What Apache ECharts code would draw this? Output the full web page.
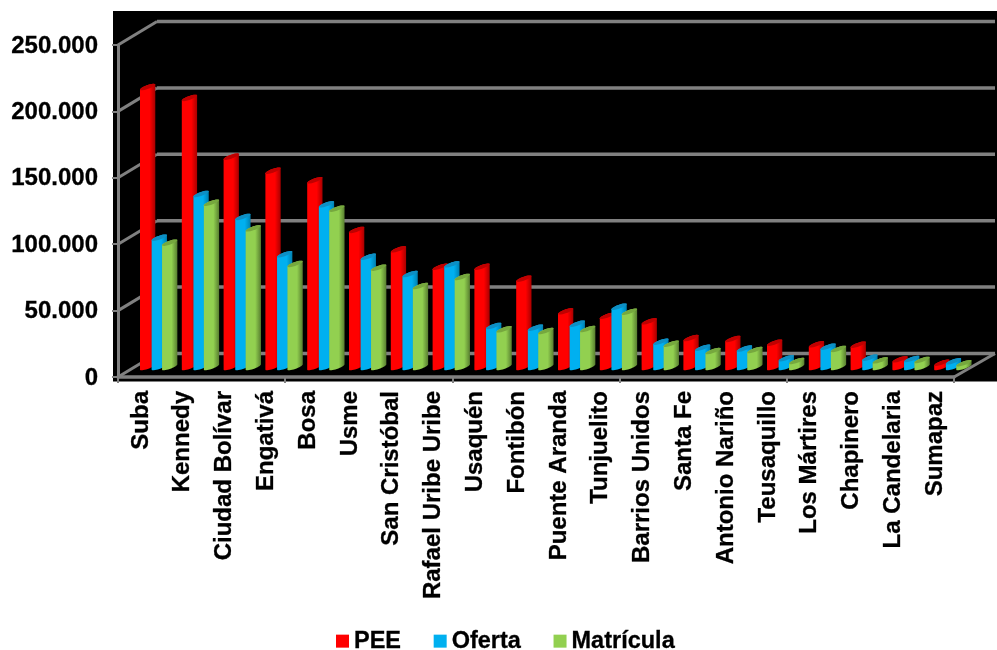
<!DOCTYPE html>
<html>
<head>
<meta charset="utf-8">
<style>html,body{margin:0;padding:0;background:#fff}#c{width:997px;height:650px}</style>
<script src="https://cdn.jsdelivr.net/npm/echarts@6/dist/echarts.min.js"></script>
</head>
<body>
<div id="c"></div>
<script>
const categories = ['Suba','Kennedy','Ciudad Bolívar','Engativá','Bosa','Usme','San Cristóbal','Rafael Uribe Uribe','Usaquén','Fontibón','Puente Aranda','Tunjuelito','Barrios Unidos','Santa Fe','Antonio Nariño','Teusaquillo','Los Mártires','Chapinero','La Candelaria','Sumapaz'];
const pee = [210800,202600,158400,147800,140600,103200,88600,75500,75500,66500,41900,38600,34400,21800,21100,18300,17100,16800,5800,3200];
const oferta = [97400,130300,113000,84900,122500,83000,70000,77300,30900,29600,32600,45400,19000,14500,13900,6600,15300,7000,6000,4300];
const matricula = [93600,123700,104400,77600,119200,74800,61000,67800,28400,27100,28600,41600,17500,12000,12800,4500,13600,5000,5300,2800];
const yTicks = [0,50000,100000,150000,200000,250000];

const FONT = '"Liberation Sans", Arial, sans-serif';
const GRAY = '#808080';
const DEPTH_X = 39, DEPTH_Y = 23.5;
const BASE_LIFT = 10, HALF_W = 7.65, TILT = 2.6, MINOR = 2;

const labelFont = { fontFamily: FONT, fontWeight: 'bold', fontSize: 24, color: '#000', textBorderColor: '#000', textBorderWidth: 0.3 };

function ellipseArc(cx, cy, from, to) {
  const pts = [];
  for (let k = 0; k <= 16; k++) {
    const t = from + (to - from) * k / 16;
    pts.push([cx + HALF_W * Math.cos(t), cy - TILT * Math.cos(t) + MINOR * Math.sin(t)]);
  }
  return pts;
}

function barRenderer(offset, light, dark, top) {
  return function (params, api) {
    const i = api.value(0);
    const b = api.coord([i, 0]);
    const t = api.coord([i, api.value(1)]);
    const cx = b[0] + offset;
    const by = b[1] - BASE_LIFT;
    const ty = t[1] - BASE_LIFT;
    const body = ellipseArc(cx, by, 0, Math.PI).concat(ellipseArc(cx, ty, Math.PI, 2 * Math.PI));
    const cap = ellipseArc(cx, ty, 0, 2 * Math.PI);
    return {
      type: 'group',
      children: [
        { type: 'polygon', shape: { points: body }, silent: true,
          style: { fill: new echarts.graphic.LinearGradient(0, 0, 1, 0, [
            { offset: 0, color: light }, { offset: 0.62, color: light }, { offset: 1, color: dark }
          ]) } },
        { type: 'polygon', shape: { points: cap }, silent: true, style: { fill: top } }
      ]
    };
  };
}

function wallRenderer(params, api) {
  const v = api.value(0);
  const a = api.coord([0, v]);
  const gx = params.coordSys.x, gw = params.coordSys.width;
  const lineStyle = { stroke: GRAY, lineWidth: 3.5, fill: null };
  const diag = { stroke: GRAY, lineWidth: 3, fill: null };
  const kids = [
    { type: 'line', shape: { x1: gx, y1: a[1], x2: gx + DEPTH_X, y2: a[1] - DEPTH_Y }, style: diag },
    { type: 'line', shape: { x1: gx + DEPTH_X, y1: a[1] - DEPTH_Y, x2: gx + gw + DEPTH_X + 2, y2: a[1] - DEPTH_Y }, style: lineStyle }
  ];
  if (v === 0) {
    kids.push({ type: 'line', shape: { x1: gx + gw, y1: a[1], x2: gx + gw + DEPTH_X + 2, y2: a[1] - DEPTH_Y }, style: diag });
  }
  return { type: 'group', children: kids };
}

const chart = echarts.init(document.getElementById('c'), null, { renderer: 'canvas' });
chart.setOption({
  animation: false,
  backgroundColor: '#ffffff',
  graphic: [{ type: 'rect', left: 113, top: 11, shape: { width: 884, height: 370.5 }, style: { fill: '#000' }, z: -10, silent: true }],
  grid: [
    { left: 118, width: 836, top: 45, height: 332 },
    { left: 120, width: 836, top: 46, height: 332 }
  ],
  legend: {
    left: 336, top: 629, padding: 0, itemWidth: 13, itemHeight: 13, itemGap: 32.5, icon: 'rect',
    data: ['PEE', 'Oferta', 'Matrícula'],
    selectedMode: false,
    textStyle: { fontFamily: FONT, fontWeight: 'bold', fontSize: 23.5, color: '#000', textBorderColor: '#000', textBorderWidth: 0.3 }
  },
  xAxis: [{
    type: 'category', gridIndex: 0, data: categories, boundaryGap: true,
    axisLine: { show: true, onZero: false, lineStyle: { color: GRAY, width: 3.5 } },
    axisTick: { show: true, length: 6, lineStyle: { color: GRAY, width: 2 } },
    axisLabel: { show: false },
    splitLine: { show: false }
  }, {
    type: 'category', gridIndex: 1, data: categories, boundaryGap: true,
    axisLine: { show: false }, axisTick: { show: false },
    axisLabel: Object.assign({ interval: 0, rotate: 90, margin: 13 }, labelFont),
    splitLine: { show: false }
  }],
  yAxis: [{
    type: 'value', gridIndex: 0, min: 0, max: 250000, interval: 50000,
    axisLine: { show: true, lineStyle: { color: GRAY, width: 3 } },
    axisTick: { show: true, length: 6, lineStyle: { color: GRAY, width: 2 } },
    axisLabel: { show: false },
    splitLine: { show: false }
  }, {
    type: 'value', gridIndex: 1, min: 0, max: 250000, interval: 50000,
    axisLine: { show: false }, axisTick: { show: false },
    axisLabel: Object.assign({ margin: 22, formatter: v => String(v).replace(/\B(?=(\d{3})+$)/g, '.') }, labelFont),
    splitLine: { show: false }
  }],
  series: [
    { type: 'custom', name: 'walls', z: 1, silent: true, clip: false, data: yTicks.map(v => [v]), encode: { y: 0 }, renderItem: wallRenderer },
    { type: 'custom', name: 'PEE', z: 2, clip: false, itemStyle: { color: '#ff0000' }, data: pee.map((v, i) => [i, v]), encode: { x: 0, y: 1 },
      renderItem: barRenderer(8.75, '#ff0000', '#a80000', '#c00000') },
    { type: 'custom', name: 'Oferta', z: 3, clip: false, itemStyle: { color: '#00b0f0' }, data: oferta.map((v, i) => [i, v]), encode: { x: 0, y: 1 },
      renderItem: barRenderer(20.4, '#00b0f0', '#0080b0', '#0e8fc4') },
    { type: 'custom', name: 'Matrícula', z: 4, clip: false, itemStyle: { color: '#92d050' }, data: matricula.map((v, i) => [i, v]), encode: { x: 0, y: 1 },
      renderItem: barRenderer(30.8, '#92d050', '#587e30', '#76a83e') }
  ]
});
</script>
</body>
</html>
